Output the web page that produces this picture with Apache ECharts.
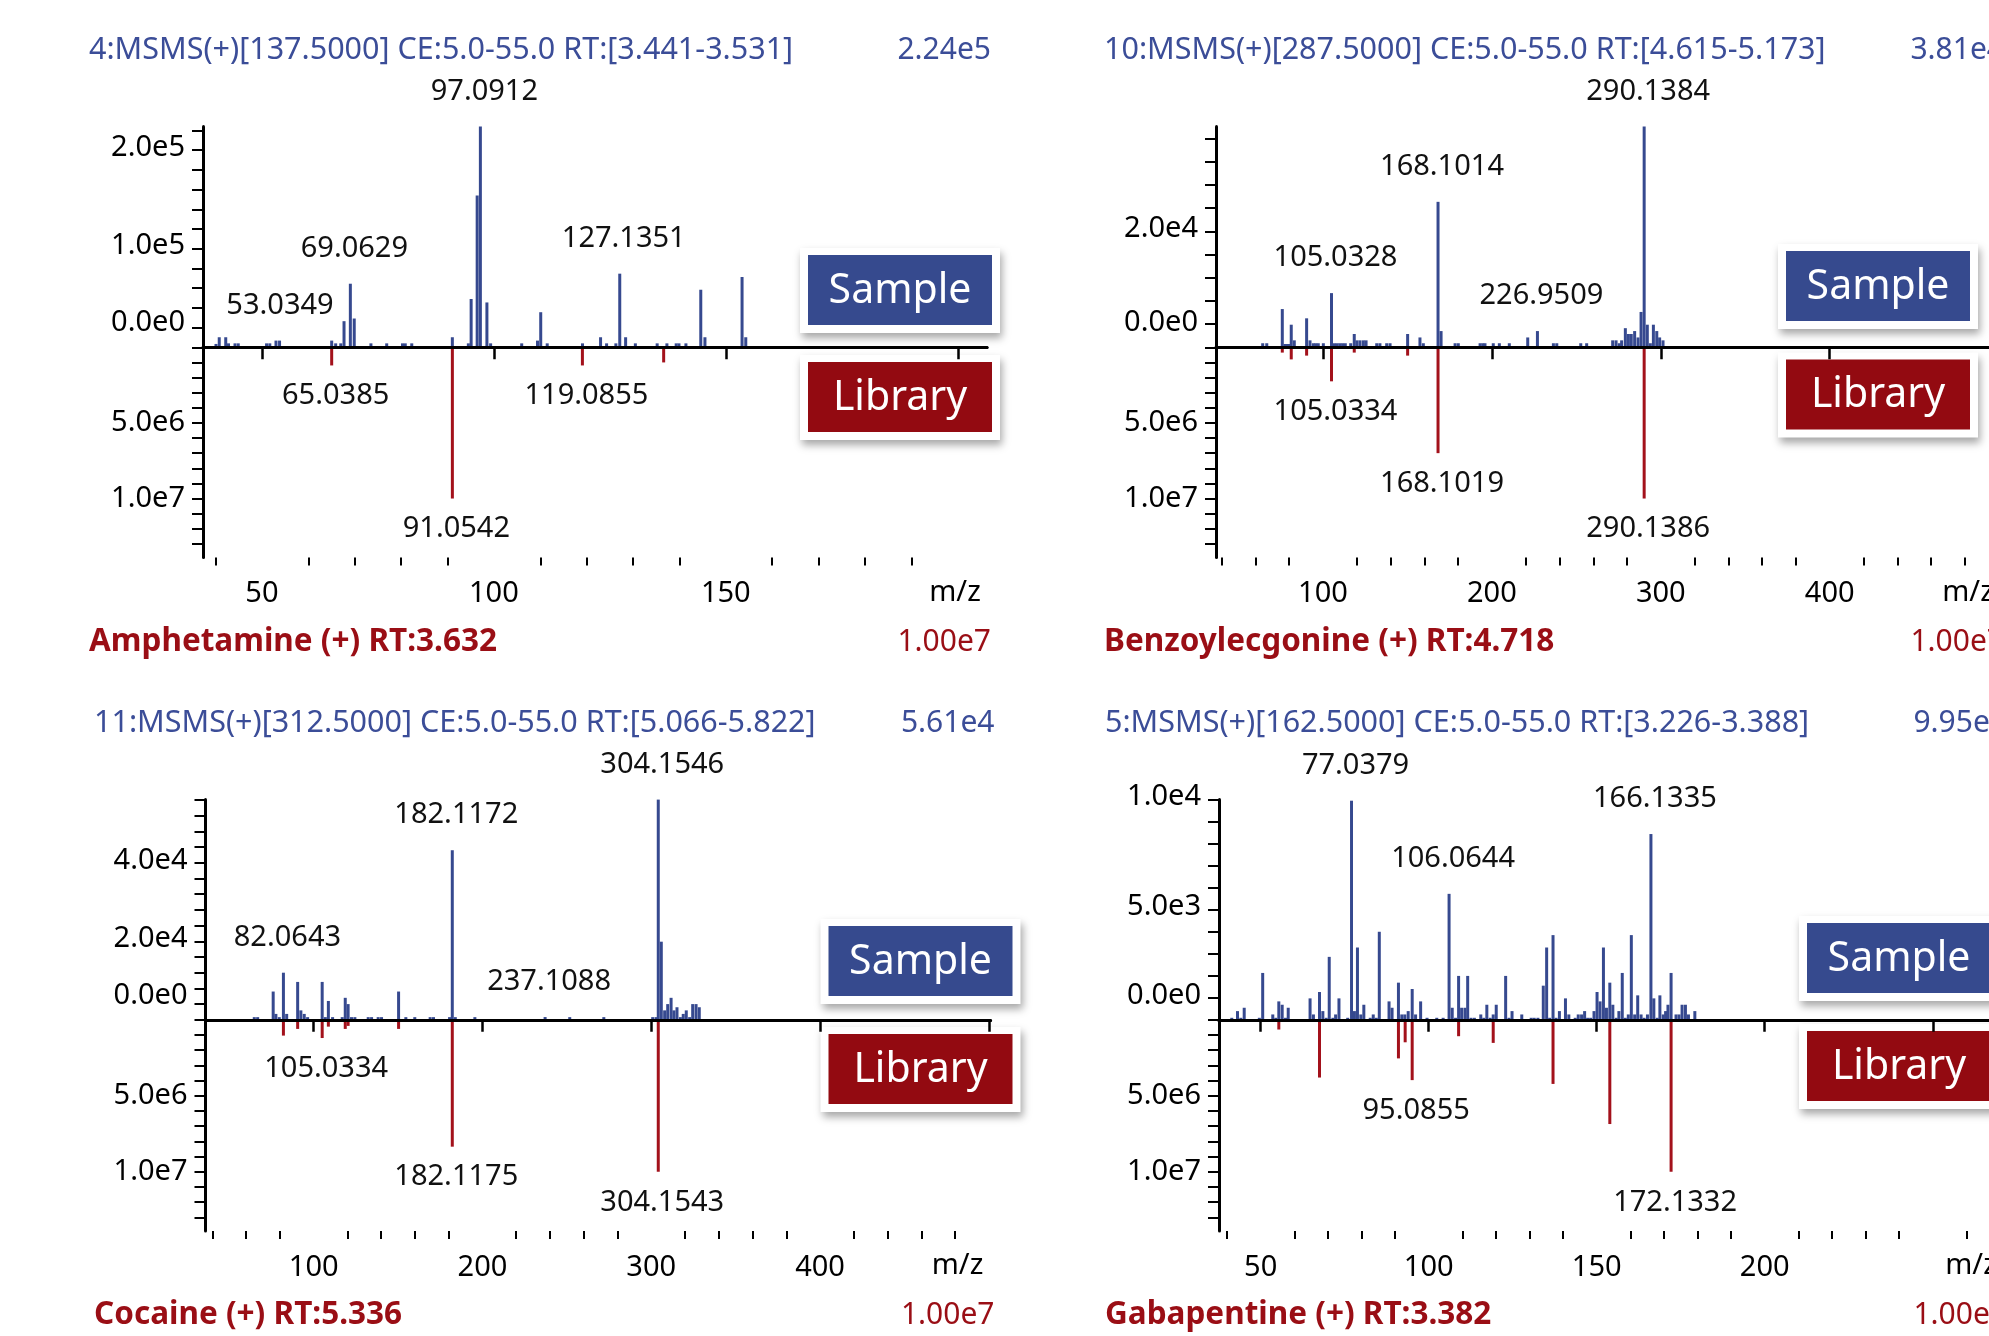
<!DOCTYPE html>
<html>
<head>
<meta charset="utf-8">
<script src="https://cdn.jsdelivr.net/npm/echarts@6/dist/echarts.min.js"></script>
<style>
  html, body { margin: 0; padding: 0; background: #fff; }
  #chart { width: 1989px; height: 1336px; }
</style>
</head>
<body>
<div id="chart"></div>
<script>
// ---------------- spectra: [m/z, intensity] ----------------
// Amphetamine
const amphSample = [
  [40.1, 3400], [40.8, 10200], [42.2, 10200], [42.8, 4000], [44.2, 4000], [44.9, 4000],
  [51.0, 4000], [51.7, 4000], [53.0349, 6800], [53.8, 6800], [65.04, 6800], [65.9, 4000],
  [67.0, 4000], [67.7, 26500], [69.0629, 64500], [69.9, 29200], [73.5, 4000], [76.9, 4000],
  [80.3, 4000], [80.9, 4000], [82.3, 4000], [91.05, 10200], [94.5, 4000], [95.1, 49000],
  [96.4, 154000], [97.0912, 224000], [98.5, 45500], [99.3, 4000], [106.0, 4000], [109.4, 6800],
  [110.1, 35600], [111.5, 4000], [119.1, 4000], [123.0, 10200], [124.3, 4000], [126.3, 4000],
  [127.1351, 74700], [128.4, 10200], [130.5, 4000], [135.2, 4000], [137.3, 4000], [139.3, 4000],
  [139.9, 4000], [141.4, 4000], [144.6, 58400], [145.5, 10200], [153.5, 71300], [154.3, 10200]
];
const amphLibrary = [[65.0385, 1.2e6], [91.0542, 1.0e7], [119.0855, 1.2e6], [136.6, 1.0e6]];
const amphSampleLabels = [53.0349, 69.0629, 97.0912, 127.1351];
const amphLibraryLabels = [65.0385, 91.0542, 119.0855];

// Benzoylecgonine
const bzeSample = [
  [64.3, 700], [66.7, 700], [75.9, 6600], [77.5, 570], [78.9, 570], [80.0, 570], [81.2, 3900],
  [83.0, 1200], [90.3, 5000], [92.3, 1200], [94.3, 700], [95.7, 700], [97.2, 700], [100.2, 700],
  [105.0328, 9350], [106.8, 700], [108.4, 700], [110.0, 700], [111.6, 700], [113.2, 700],
  [116.4, 700], [118.5, 2300], [120.1, 1200], [121.9, 1200], [123.9, 1200], [125.5, 1200],
  [131.8, 700], [133.7, 700], [137.7, 700], [139.7, 700], [150.1, 2300], [157.4, 1700],
  [159.4, 700], [168.1014, 25100], [169.9, 2800], [178.2, 700], [180.1, 700], [193.0, 700],
  [194.6, 700], [195.9, 700], [200.8, 700], [204.4, 700], [210.3, 700], [221.2, 1700],
  [226.9509, 2800], [236.4, 700], [238.4, 700], [252.6, 700], [256.1, 700], [271.5, 1200],
  [273.5, 1200], [275.4, 700], [276.8, 1200], [279.0, 3300], [280.8, 2300], [282.5, 2300],
  [284.5, 2800], [286.5, 1700], [288.3, 6100], [290.1384, 38100], [292.0, 3900], [293.8, 700],
  [295.6, 3900], [297.6, 2800], [299.3, 1700], [301.3, 1200]
];
const bzeLibrary = [
  [75.9, 0.35e6], [81.2, 0.8e6], [90.3, 0.55e6], [105.0334, 2.25e6], [118.5, 0.35e6],
  [150.1, 0.55e6], [168.1019, 7.0e6], [290.1386, 1.0e7]
];
const bzeSampleLabels = [105.0328, 168.1014, 226.9509, 290.1384];
const bzeLibraryLabels = [105.0334, 168.1019, 290.1386];

// Cocaine
const cocSample = [
  [64.8, 680], [66.8, 680], [76.0, 7200], [77.6, 1500], [79.6, 680], [82.0643, 12000],
  [84.0, 1500], [90.5, 9650], [92.4, 2400], [94.4, 1500], [96.4, 680], [105.03, 9650],
  [106.9, 680], [108.7, 4800], [111.2, 680], [116.9, 680], [118.7, 5600], [120.4, 4000],
  [122.4, 680], [124.4, 680], [132.3, 680], [134.3, 680], [138.2, 680], [140.2, 680],
  [150.3, 7200], [154.6, 680], [159.9, 680], [169.0, 680], [171.0, 680], [180.5, 680],
  [182.1172, 43200], [183.9, 680], [195.5, 680], [237.1088, 700], [251.7, 680], [271.9, 680],
  [300.85, 680], [302.85, 680], [304.1546, 56100], [305.95, 19900], [307.95, 2400], [309.75, 4000],
  [311.75, 5600], [313.45, 2400], [315.25, 3200], [317.25, 680], [318.95, 1500], [320.75, 2400],
  [322.75, 680], [324.55, 4000], [326.55, 4000], [328.45, 3200]
];
const cocLibrary = [
  [82.0643, 1.04e6], [90.5, 0.6e6], [105.0334, 1.2e6], [108.7, 0.45e6], [118.7, 0.6e6],
  [120.4, 0.4e6], [150.3, 0.6e6], [182.1175, 8.35e6], [304.1543, 1.0e7]
];
const cocSampleLabels = [82.0643, 182.1172, 237.1088, 304.1546];
const cocLibraryLabels = [105.0334, 182.1175, 304.1543];

// Gabapentine
const gabSample = [
  [41.4, 91], [43.1, 395], [44.1, 91], [45.1, 547], [49.6, 91], [50.6, 2128], [53.6, 243],
  [54.5, 91], [55.4, 836], [56.4, 684], [57.4, 91], [58.2, 547], [64.7, 973], [65.7, 243],
  [67.5, 1262], [68.5, 395], [69.5, 91], [70.4, 2858], [71.5, 91], [72.3, 243], [73.3, 973],
  [75.9, 91], [77.0379, 9950], [77.9, 395], [78.8, 3283], [79.8, 243], [80.7, 684], [82.6, 91],
  [83.5, 243], [84.4, 91], [85.3, 3998], [88.2, 836], [89.1, 547], [91.0, 1687], [92.0, 243],
  [92.9, 243], [93.9, 395], [95.09, 1398], [96.1, 243], [97.6, 836], [99.5, 91], [102.4, 91],
  [104.3, 91], [106.0644, 5720], [107.0, 547], [108.0, 91], [108.9, 1993], [109.8, 547],
  [110.8, 547], [111.6, 1993], [112.6, 91], [113.6, 91], [115.5, 243], [116.4, 91], [117.3, 684],
  [118.3, 91], [119.2, 243], [120.1, 684], [122.9, 1993], [123.9, 91], [124.8, 395], [127.7, 243],
  [130.5, 91], [131.4, 91], [132.5, 91], [134.1, 1550], [135.1, 3283], [136.0, 91], [137.0, 3846],
  [137.9, 91], [138.9, 395], [140.7, 973], [141.7, 243], [143.6, 91], [144.5, 243], [145.5, 243],
  [146.4, 395], [147.3, 91], [148.2, 91], [149.2, 395], [150.1, 1262], [151.0, 836], [152.0, 3283],
  [152.9, 547], [153.9, 1687], [154.8, 684], [155.8, 91], [156.6, 395], [157.6, 2128], [158.5, 91],
  [159.4, 243], [160.3, 3846], [161.3, 243], [162.2, 1110], [163.2, 243], [164.1, 91], [165.1, 243],
  [166.1335, 8436], [167.0, 973], [168.0, 91], [168.8, 1110], [169.8, 243], [170.5, 395],
  [171.2, 684], [172.13, 2128], [173.6, 243], [174.5, 243], [175.4, 684], [176.4, 684],
  [177.3, 243], [179.2, 395]
];
const gabLibrary = [
  [55.4, 0.64e6], [67.5, 3.8e6], [91.0, 2.54e6], [93.0, 1.48e6], [95.0855, 3.97e6],
  [108.9, 1.08e6], [119.2, 1.52e6], [137.0, 4.22e6], [153.9, 6.86e6], [172.1332, 1.0e7]
];
const gabSampleLabels = [77.0379, 106.0644, 166.1335];
const gabLibraryLabels = [95.0855, 172.1332];

// ---------------- text ----------------
const scanTitles = [
  '4:MSMS(+)[137.5000] CE:5.0-55.0 RT:[3.441-3.531]',
  '10:MSMS(+)[287.5000] CE:5.0-55.0 RT:[4.615-5.173]',
  '11:MSMS(+)[312.5000] CE:5.0-55.0 RT:[5.066-5.822]',
  '5:MSMS(+)[162.5000] CE:5.0-55.0 RT:[3.226-3.388]'
];
const sampleMaxTexts = ['2.24e5', '3.81e4', '5.61e4', '9.95e3'];
const compoundNames = [
  'Amphetamine (+) RT:3.632',
  'Benzoylecgonine (+) RT:4.718',
  'Cocaine (+) RT:5.336',
  'Gabapentine (+) RT:3.382'
];
const libraryMaxTexts = ['1.00e7', '1.00e7', '1.00e7', '1.00e7'];

// ---------------- axes ----------------
const sampleAxisMax = [2.24e5, 3.81e4, 5.61e4, 1.0e4];
const sampleTickStep = [2e4, 4e3, 4e3, 1e3];
const sampleTickLabels = [[0, 1e5, 2e5], [0, 2e4], [0, 2e4, 4e4], [0, 5e3, 1e4]];
const libraryTickLabels = [5e6, 1e7];
const xMajorTicks = [[50, 100, 150, 200], [100, 200, 300, 400, 500], [100, 200, 300, 400, 500], [50, 100, 150, 200, 250]];
const xTickLabels = [[50, 100, 150], [100, 200, 300, 400], [100, 200, 300, 400], [50, 100, 150, 200]];
const xMinorStep = [10, 20, 20, 10];

// ---------------- layout ----------------
const FONT = '"Noto Sans", "Open Sans", sans-serif';
const BLUE_TEXT = '#3b4d98';
const RED_TEXT = '#9a0e15';
const SAMPLE_BAR = '#36498f';
const LIBRARY_BAR = '#a3111b';
const ZERO_SHIFT = 22;

const rows = [
  { top: 126.5, base: 347.3, bottom: 557.5, titleY: 50.5, nameY: 642, mzY: 593 },
  { top: 799.6, base: 1019.8, bottom: 1231, titleY: 723, nameY: 1315, mzY: 1266 }
];
const panels = [
  { row: 0, left: 203, width: 784, xMin: 37.3, xMax: 206.3, textLeft: 89, textRight: 991, box: [808, 255, 362] },
  { row: 0, left: 1216, width: 785, xMin: 36.65, xMax: 501.4, textLeft: 1104, textRight: 2004, box: [1786, 251, 359.5] },
  { row: 1, left: 205.5, width: 785, xMin: 35.9, xMax: 501.0, textLeft: 94, textRight: 994.5, box: [828.5, 926, 1034] },
  { row: 1, left: 1219, width: 785, xMin: 37.6, xMax: 271.2, textLeft: 1105, textRight: 2007, box: [1807, 923, 1031] }
];
const spectra = [
  [amphSample, amphLibrary, amphSampleLabels, amphLibraryLabels],
  [bzeSample, bzeLibrary, bzeSampleLabels, bzeLibraryLabels],
  [cocSample, cocLibrary, cocSampleLabels, cocLibraryLabels],
  [gabSample, gabLibrary, gabSampleLabels, gabLibraryLabels]
];

const expLabel = v => v.toExponential(1).replace('e+', 'e');
const range = (from, to, step) => {
  const out = [];
  for (let v = from; v <= to + step * 1e-6; v += step) out.push(Math.round(v * 1e6) / 1e6);
  return out;
};

const grid = [], xAxis = [], yAxis = [], series = [], graphic = [];
const axisLineStyle = { color: '#000', width: 3 };
const tickText = { fontSize: 29, fontFamily: FONT, color: '#000' };

panels.forEach((p, i) => {
  const r = rows[p.row];
  grid.push({ left: p.left, top: r.top, width: p.width, height: r.base - r.top, outerBoundsMode: 'none', containLabel: false });
  grid.push({ left: p.left, top: r.base, width: p.width, height: r.bottom - r.base, outerBoundsMode: 'none', containLabel: false });

  // baseline shared by both spectra
  xAxis.push({
    type: 'value', gridIndex: 2 * i, min: p.xMin, max: p.xMax, z: 5,
    axisLine: { show: true, lineStyle: axisLineStyle },
    axisTick: { show: false }, axisLabel: { show: false }, splitLine: { show: false }
  });
  // m/z axis: major ticks and labels
  xAxis.push({
    type: 'value', gridIndex: 2 * i + 1, min: p.xMin, max: p.xMax, position: 'bottom',
    axisLine: { show: true, lineStyle: axisLineStyle },
    axisTick: { show: true, length: 12, lineStyle: { color: '#000', width: 2.5 }, customValues: xMajorTicks[i] },
    axisLabel: Object.assign({ show: true, margin: 22, customValues: xTickLabels[i] }, tickText),
    splitLine: { show: false }
  });
  // m/z axis: minor ticks
  const minors = range(Math.ceil(p.xMin / xMinorStep[i]) * xMinorStep[i], p.xMax, xMinorStep[i])
    .filter(v => !xMajorTicks[i].includes(v));
  xAxis.push({
    type: 'value', gridIndex: 2 * i + 1, min: p.xMin, max: p.xMax, position: 'bottom',
    axisLine: { show: false },
    axisTick: { show: true, length: 8, lineStyle: { color: '#000', width: 2 }, customValues: minors },
    axisLabel: { show: false }, splitLine: { show: false }
  });

  // sample intensity axis
  yAxis.push({
    type: 'value', gridIndex: 2 * i, min: 0, max: sampleAxisMax[i],
    axisLine: { show: true, lineStyle: axisLineStyle },
    axisTick: { show: true, length: 11, lineStyle: { color: '#000', width: 2 }, customValues: range(0, sampleAxisMax[i], sampleTickStep[i]) },
    axisLabel: Object.assign({
      show: true, margin: 18, padding: [0, 0, 5, 0], customValues: sampleTickLabels[i],
      formatter: v => (v === 0 ? '{zero|' + expLabel(v) + '}' : expLabel(v)),
      rich: { zero: Object.assign({ padding: [0, 0, 2 * ZERO_SHIFT, 0] }, tickText) }
    }, tickText),
    splitLine: { show: false }
  });
  // library intensity axis, pointing down
  yAxis.push({
    type: 'value', gridIndex: 2 * i + 1, min: 0, max: 1.39e7, inverse: true,
    axisLine: { show: true, lineStyle: axisLineStyle },
    axisTick: { show: true, length: 11, lineStyle: { color: '#000', width: 2 }, customValues: range(0, 1.3e7, 1e6) },
    axisLabel: Object.assign({ show: true, margin: 18, padding: [0, 0, 5, 0], customValues: libraryTickLabels, formatter: expLabel }, tickText),
    splitLine: { show: false }
  });

  const [sample, library, sLabels, lLabels] = spectra[i];
  const peakLabel = (pos, dist) => ({
    show: false, position: pos, distance: dist, offset: [4, 0],
    fontSize: 29, fontFamily: FONT, color: '#111',
    formatter: prm => prm.value[0].toFixed(4)
  });
  series.push({
    name: 'Sample', type: 'bar', xAxisIndex: 3 * i, yAxisIndex: 2 * i,
    barWidth: 3, itemStyle: { color: SAMPLE_BAR }, label: peakLabel('top', 20.5),
    data: sample.map(([mz, v]) => (sLabels.includes(mz) ? { value: [mz, v], label: { show: true } } : [mz, v]))
  });
  series.push({
    name: 'Library', type: 'bar', xAxisIndex: 3 * i + 1, yAxisIndex: 2 * i + 1,
    barWidth: 3, itemStyle: { color: LIBRARY_BAR }, label: peakLabel('bottom', 16),
    data: library.map(([mz, v]) => (lLabels.includes(mz) ? { value: [mz, v], label: { show: true } } : [mz, v]))
  });

  // header and footer texts
  const txt = (text, x, y, align, color, size, weight) => ({
    type: 'text', x, y, silent: true,
    style: { text, fill: color, fontSize: size, fontFamily: FONT, fontWeight: weight || 'normal', align, verticalAlign: 'middle' }
  });
  graphic.push(txt(scanTitles[i], p.textLeft, r.titleY, 'left', BLUE_TEXT, 30.5));
  graphic.push(txt(sampleMaxTexts[i], p.textRight, r.titleY, 'right', BLUE_TEXT, 30));
  graphic.push(txt(compoundNames[i], p.textLeft, r.nameY, 'left', RED_TEXT, 31.5, 'bold'));
  graphic.push(txt(libraryMaxTexts[i], p.textRight, r.nameY, 'right', RED_TEXT, 30));
  graphic.push(txt('m/z', p.left + 752, r.mzY, 'center', '#000', 29));

  // legend boxes
  const [bx, bySample, byLibrary] = p.box;
  [[bySample, '#364a8e', 'Sample'], [byLibrary, '#930a11', 'Library']].forEach(([by, fill, label]) => {
    graphic.push({
      type: 'group', silent: true,
      children: [
        { type: 'rect', shape: { x: bx - 8, y: by - 7, width: 200, height: 85 },
          style: { fill: '#fff', shadowBlur: 8, shadowOffsetX: 2, shadowOffsetY: 5, shadowColor: 'rgba(0,0,0,0.35)' } },
        { type: 'rect', shape: { x: bx, y: by, width: 184, height: 70 }, style: { fill } },
        { type: 'text', x: bx + 92, y: by + 36,
          style: { text: label, fill: '#fff', fontSize: 41, fontFamily: FONT, align: 'center', verticalAlign: 'middle' } }
      ]
    });
  });
});

const chart = echarts.init(document.getElementById('chart'), null, { renderer: 'canvas' });
chart.setOption({
  backgroundColor: '#fff',
  animation: false,
  grid, xAxis, yAxis, series, graphic
});
</script>
</body>
</html>
